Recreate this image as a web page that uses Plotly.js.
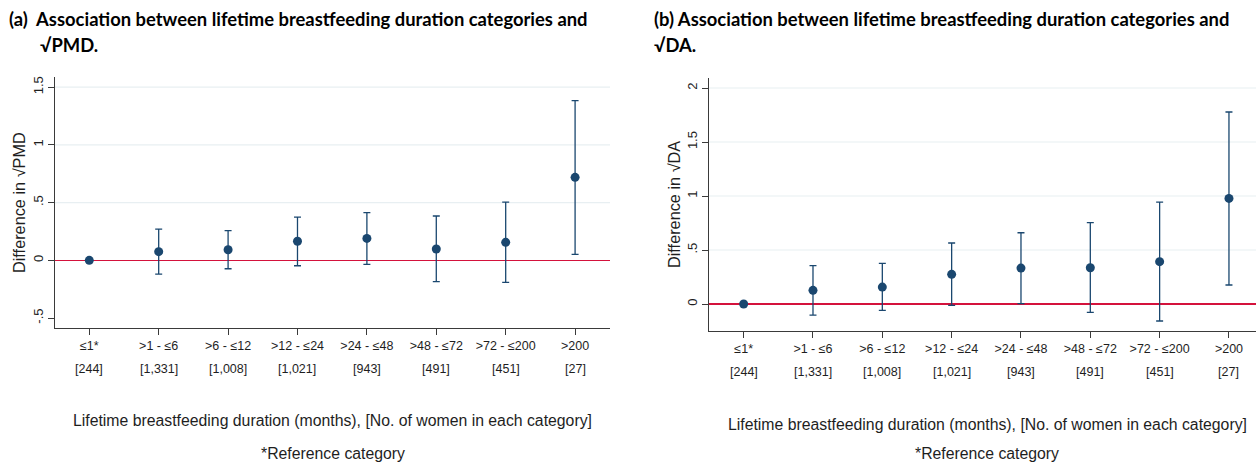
<!DOCTYPE html>
<html>
<head>
<meta charset="utf-8">
<script src="https://cdn.plot.ly/plotly-3.0.1.min.js"></script>
<style>html,body{margin:0;padding:0;background:#fff;}#chart{width:1256px;height:463px;}</style>
</head>
<body>
<div id="chart"></div>
<script>
const categories = ["≤1*", ">1 - ≤6", ">6 - ≤12", ">12 - ≤24", ">24 - ≤48", ">48 - ≤72", ">72 - ≤200", ">200"];
const counts = ["[244]", "[1,331]", "[1,008]", "[1,021]", "[943]", "[491]", "[451]", "[27]"];

const pmdEst  = [0, 0.075, 0.092, 0.165, 0.190, 0.098, 0.156, 0.719];
const pmdLow  = [0, -0.119, -0.073, -0.047, -0.035, -0.185, -0.191, 0.052];
const pmdHigh = [0, 0.271, 0.257, 0.375, 0.413, 0.384, 0.505, 1.383];

const daEst  = [0, 0.127, 0.157, 0.275, 0.333, 0.336, 0.392, 0.978];
const daLow  = [0, -0.102, -0.059, -0.012, 0.003, -0.077, -0.157, 0.176];
const daHigh = [0, 0.355, 0.377, 0.565, 0.660, 0.753, 0.944, 1.778];

const pmdTickVals = [-0.5, 0, 0.5, 1, 1.5];
const pmdTickText = ["-.5", "0", ".5", "1", "1.5"];
const daTickVals = [0, 0.5, 1, 1.5, 2];
const daTickText = ["0", ".5", "1", "1.5", "2"];

const titleA1 = "(a)  Association between lifetime breastfeeding duration categories and";
const titleA2 = "√PMD.";
const titleB1 = "(b) Association between lifetime breastfeeding duration categories and";
const titleB2 = "√DA.";
const yTitleA = "Difference in √PMD";
const yTitleB = "Difference in √DA";
const xTitle = "Lifetime breastfeeding duration (months), [No. of women in each category]";
const footnote = "*Reference category";

const W = 1256, H = 463;
const NAVY = "#1a476f";
const GRID = "#e8eff2";
const RED = "#d4123c";
const AXIS = "#3a3a3a";
const TXT = "#1e1e1e";
const FONT = "Liberation Sans, Arial, sans-serif";
const TFONT = "Lato, Noto Sans, sans-serif";

function px(v){ return v / W; }
function py(v){ return 1 - v / H; }

function trace(est, low, high, xa, ya){
  return {
    type: "scatter", mode: "markers",
    x: categories, y: est, xaxis: xa, yaxis: ya,
    marker: {color: NAVY, size: 9},
    error_y: {
      type: "data", symmetric: false,
      array: high.map((h, i) => h - est[i]),
      arrayminus: est.map((e, i) => e - low[i]),
      color: NAVY, thickness: 1.3, width: 3.5
    },
    showlegend: false, hoverinfo: "skip", cliponaxis: false
  };
}

function xAxis(domain, range, anchor){
  return {
    domain: domain, range: range, anchor: anchor, type: "category",
    tickmode: "array", tickvals: categories, ticktext: categories,
    showline: true, linecolor: AXIS, linewidth: 1.2,
    ticks: "outside", ticklen: 6, tickcolor: AXIS, tickwidth: 1,
    tickfont: {family: FONT, size: 12.5, color: TXT},
    showgrid: false, zeroline: false, fixedrange: true
  };
}

function yAxis(domain, range, anchor, vals, text){
  return {
    domain: domain, range: range, anchor: anchor,
    tickmode: "array", tickvals: vals, ticktext: text, tickangle: -90,
    showline: true, linecolor: AXIS, linewidth: 1.2,
    ticks: "outside", ticklen: 6, tickcolor: AXIS, tickwidth: 1,
    tickfont: {family: FONT, size: 13, color: TXT},
    showgrid: false,
    zeroline: true, zerolinecolor: RED, zerolinewidth: 1.5,
    fixedrange: true
  };
}

const xDomA = [px(55), px(610)];
const xDomB = [px(709), 1];
const yDomA = [py(327.7), py(77.3)];
const yDomB = [py(330.7), py(78.3)];

const shapes = [];
pmdTickVals.filter(v => v > 0).forEach(v => shapes.push({
  type: "line", xref: "x domain", yref: "y", x0: 0, x1: 1, y0: v, y1: v,
  line: {color: GRID, width: 1.2}, layer: "below"
}));
daTickVals.filter(v => v > 0).forEach(v => shapes.push({
  type: "line", xref: "x2 domain", yref: "y2", x0: 0, x1: 1, y0: v, y1: v,
  line: {color: GRID, width: 1.2}, layer: "below"
}));

const annotations = [];
function ann(text, x, y, opts){
  return Object.assign({
    text: text, xref: "paper", yref: "paper", x: x, y: y,
    xanchor: "center", yanchor: "middle", showarrow: false,
    font: {family: FONT, size: 15.8, color: TXT}
  }, opts || {});
}
counts.forEach((c, i) => {
  annotations.push(ann(c, categories[i], py(369.3), {xref: "x", font: {family: FONT, size: 12.5, color: TXT}}));
  annotations.push(ann(c, categories[i], py(371.7), {xref: "x2", font: {family: FONT, size: 12.5, color: TXT}}));
});
annotations.push(ann(xTitle, px(332.5), py(420.7)));
annotations.push(ann(footnote, px(332.5), py(453.5)));
annotations.push(ann(xTitle, px(987), py(424.3)));
annotations.push(ann(footnote, px(987), py(453.5)));

const yt = {family: FONT, size: 16.3, color: TXT};
annotations.push(ann(yTitleA, px(19.5), py(202.5), {textangle: -90, font: yt}));
annotations.push(ann(yTitleB, px(673.5), py(204.5), {textangle: -90, font: yt}));

const tf = {family: TFONT, size: 18.4, color: "#000", weight: 700};
annotations.push(ann(titleA1, px(7), py(19), {xanchor: "left", font: tf}));
annotations.push(ann(titleA2, px(38), py(45), {xanchor: "left", font: tf}));
annotations.push(ann(titleB1, px(652), py(19), {xanchor: "left", font: tf}));
annotations.push(ann(titleB2, px(652), py(45), {xanchor: "left", font: tf}));

const layout = {
  width: W, height: H, autosize: false,
  margin: {l: 0, r: 0, t: 0, b: 0},
  paper_bgcolor: "#fff", plot_bgcolor: "#fff",
  showlegend: false,
  xaxis: xAxis(xDomA, [-0.494, 7.503], "y"),
  yaxis: yAxis(yDomA, [-0.584, 1.586], "x", pmdTickVals, pmdTickText),
  xaxis2: xAxis(xDomB, [-0.5, 7.39], "y2"),
  yaxis2: yAxis(yDomB, [-0.247, 2.09], "x2", daTickVals, daTickText),
  shapes: shapes,
  annotations: annotations
};

Plotly.newPlot("chart", [
  trace(pmdEst, pmdLow, pmdHigh, "x", "y"),
  trace(daEst, daLow, daHigh, "x2", "y2")
], layout, {staticPlot: true, displayModeBar: false});
</script>
</body>
</html>
